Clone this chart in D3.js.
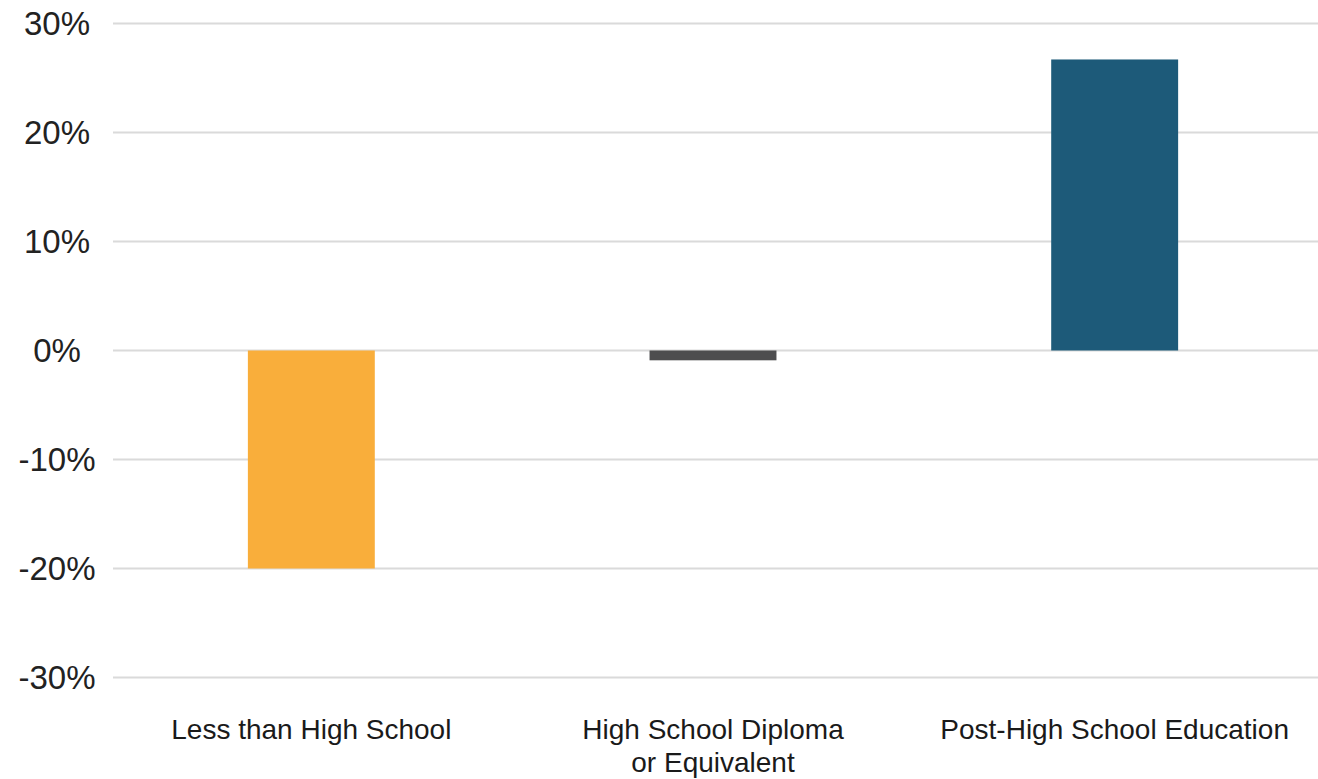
<!DOCTYPE html>
<html>
<head>
<meta charset="utf-8">
<script src="https://cdn.jsdelivr.net/npm/d3@7"></script>
<style>
  html, body { margin: 0; padding: 0; background: #fff; }
  svg { display: block; }
</style>
</head>
<body>
<svg id="chart" width="1318" height="779"></svg>
<script>
// Percentage change by educational attainment
const categories = [
  ["Less than High School"],
  ["High School Diploma", "or Equivalent"],
  ["Post-High School Education"]
];
const values = [-0.20, -0.009, 0.267];
const barColors = ["#F9AE3B", "#4D4D4F", "#1D5A79"];
const tickValues = [-0.3, -0.2, -0.1, 0, 0.1, 0.2, 0.3];

const plot = { left: 113, right: 1318, top: 23.5, bottom: 677.5 };

const svg = d3.select("#chart");

const x = d3.scaleBand()
  .domain(d3.range(categories.length))
  .range([plot.left - 2.5, plot.right - 2.5])
  .paddingInner(0.684)
  .paddingOuter(0.342);

const y = d3.scaleLinear()
  .domain([-0.3, 0.3])
  .range([plot.bottom, plot.top]);

// horizontal gridlines
svg.append("g")
  .selectAll("line")
  .data(tickValues)
  .join("line")
  .attr("x1", plot.left)
  .attr("x2", plot.right)
  .attr("y1", d => y(d))
  .attr("y2", d => y(d))
  .attr("stroke", "#DADADA")
  .attr("stroke-width", 2.2);

// y tick labels, plain hyphen for negatives
const pct = d3.formatLocale({ decimal: ".", thousands: ",", grouping: [3], currency: ["", ""], minus: "-" }).format(".0%");
svg.append("g")
  .selectAll("text")
  .data(tickValues)
  .join("text")
  .attr("x", 57)
  .attr("y", d => y(d))
  .attr("dy", "0.35em")
  .attr("text-anchor", "middle")
  .attr("font-family", "Liberation Sans, Arial, sans-serif")
  .attr("font-size", 33)
  .attr("fill", "#222")
  .text(pct);

// bars
svg.append("g")
  .selectAll("rect")
  .data(values)
  .join("rect")
  .attr("x", (d, i) => x(i))
  .attr("width", x.bandwidth())
  .attr("y", d => y(Math.max(0, d)))
  .attr("height", d => Math.abs(y(d) - y(0)))
  .attr("fill", (d, i) => barColors[i]);

// category labels
const labels = svg.append("g")
  .selectAll("text")
  .data(categories)
  .join("text")
  .attr("x", (d, i) => x(i) + x.bandwidth() / 2)
  .attr("y", 739)
  .attr("text-anchor", "middle")
  .attr("font-family", "Liberation Sans Narrow, Arial Narrow, Liberation Sans, sans-serif")
  .attr("font-size", 28)
  .attr("fill", "#1a1a1a");

labels.selectAll("tspan")
  .data(d => d)
  .join("tspan")
  .attr("x", function() { return d3.select(this.parentNode).attr("x"); })
  .attr("dy", (d, i) => i === 0 ? 0 : 33)
  .text(d => d);
</script>
</body>
</html>
